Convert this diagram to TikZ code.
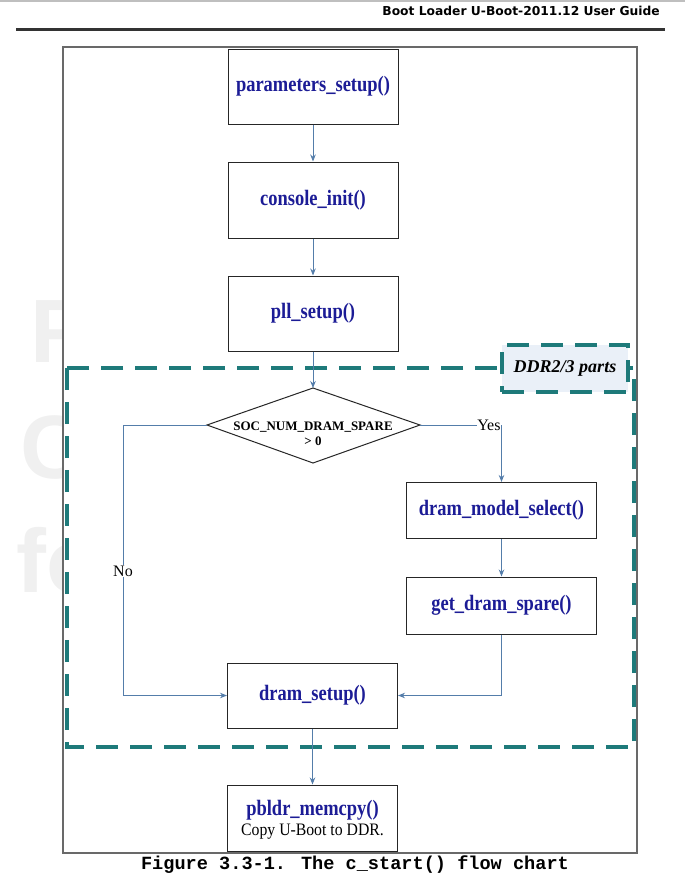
\documentclass[tikz,border=0pt]{standalone}
\usepackage{fontspec}
\setmainfont{Liberation Serif}
\newfontfamily\boxfont[FakeStretch=0.84]{Liberation Serif}
\newfontfamily\subfont[FakeStretch=0.9]{Liberation Serif}
\newfontfamily\hdrfont{DejaVu Sans}
\newfontfamily\capfont{Liberation Mono}
\newfontfamily\wmfont{Liberation Sans}
\usetikzlibrary{arrows.meta}
\definecolor{fncol}{RGB}{28,28,150}
\definecolor{conncol}{RGB}{84,125,170}
\definecolor{tealcol}{RGB}{30,122,122}
\definecolor{lblbg}{RGB}{234,240,248}
\definecolor{framecol}{RGB}{105,105,105}
\begin{document}
\begin{tikzpicture}[x=1pt,y=-1pt,
  box/.style={draw=black!85,line width=1pt,fill=white,minimum width=170pt,minimum height=76pt,inner sep=0pt,
    font=\boxfont\fontsize{22}{24}\selectfont\bfseries,text=fncol,align=center},
  conn/.style={draw=conncol,line width=0.9pt,-{Stealth[length=7pt,width=5.5pt]}},
  ddrdash/.style={draw=tealcol,line width=3.5pt,dash pattern=on 22pt off 12pt},
  lbl/.style={fill=white,inner sep=1pt,font=\fontsize{16}{18}\selectfont}]
\useasboundingbox (0,0) rectangle (685,881);
% page rules
\draw[black!25,line width=1.5pt] (0,1) -- (685,1);
\draw[black!80,line width=3pt] (16,29) -- (665,29);
\node[anchor=base east,inner sep=0pt,font=\hdrfont\bfseries\fontsize{12.3}{14}\selectfont] (hdr) at (660,15) {Boot Loader U-Boot-2011.12 User Guide};
% watermark fragments
\begin{scope}
  \clip (0,250) rectangle (62,620);
  \node[text=black!6,font=\wmfont\bfseries\fontsize{90}{90}\selectfont,anchor=base west,inner sep=0pt] (wmF) at (30,362) {F};
  \node[text=black!6,font=\wmfont\bfseries\fontsize{90}{90}\selectfont,anchor=base west,inner sep=0pt] (wmC) at (20,478) {C};
  \node[text=black!6,font=\wmfont\bfseries\fontsize{90}{90}\selectfont,anchor=base west,inner sep=0pt] (wmfo) at (16,592) {fo};
\end{scope}
% outer frame
\draw[framecol,line width=1.5pt,fill=white] (63,47) rectangle (637,853);
% boxes
\node[box,minimum height=75pt] (ps) at (313,86.5) {parameters\_setup()};
\node[box] (ci) at (313,200) {console\_init()};
\node[box,minimum height=75pt] (pl) at (313,313.5) {pll\_setup()};
\node[box,minimum width=190pt,minimum height=56pt] (ms) at (501.5,510.5) {dram\_model\_select()};
\node[box,minimum width=190pt,minimum height=57pt] (gs) at (501.5,605.5) {get\_dram\_spare()};
\node[box,minimum height=65pt] (ds) at (312.5,695.5) {dram\_setup()};
\node[box,minimum height=66pt] (pb) at (312.5,818) {};
\node[anchor=base,inner sep=0pt,font=\boxfont\fontsize{22}{24}\selectfont\bfseries,text=fncol] (pbt) at (312.5,815) {pbldr\_memcpy()};
\node[anchor=base,inner sep=0pt,font=\subfont\fontsize{17.5}{19}\selectfont] (pbs) at (312.5,835) {Copy U-Boot to DDR.};
% decision
\coordinate (dt) at (313,388);
\coordinate (dr) at (420,425);
\coordinate (db) at (313,463);
\coordinate (dl) at (207,425);
\draw[black!85,line width=1pt,fill=white] (dt) -- (dr) -- (db) -- (dl) -- cycle;
\node[align=center,inner sep=0pt,font=\fontsize{13}{15}\selectfont\bfseries] (dtext) at (313,434) {SOC\_NUM\_DRAM\_SPARE\\{}> 0};
% DDR region
\draw[ddrdash] (67,368) rectangle (634,747);
\node[ddrdash,fill=lblbg,minimum width=126pt,minimum height=47pt,inner sep=0pt,
  font=\fontsize{18}{20}\selectfont\bfseries\itshape] (ddr) at (565,368.5) {DDR2/3 parts};
% connectors
\draw[conn] (ps.south) -- (ci.north);
\draw[conn] (ci.south) -- (pl.north);
\draw[conn] (pl.south) -- (dt);
\draw[conn] (dr) -| node[pos=0.5,anchor=east,lbl,inner sep=0.5pt] (yes) {Yes} (ms.north);
\draw[conn] (ms.south) -- (gs.north);
\draw[conn] (gs.south) |- (ds.east);
\coordinate (n1) at (123,425);
\coordinate (n2) at (123,695.5);
\draw[conn] (dl) -- (n1) -- node[pos=0.54,lbl] (no) {No} (n2) -- (ds.west);
\draw[conn] (ds.south) -- (pb.north);
% caption
\node[anchor=base,inner sep=0pt,font=\capfont\bfseries\fontsize{18.6}{20}\selectfont] (cap) at (355,869) {Figure 3.3-1. The c\_start() flow chart};
\end{tikzpicture}
\end{document}
